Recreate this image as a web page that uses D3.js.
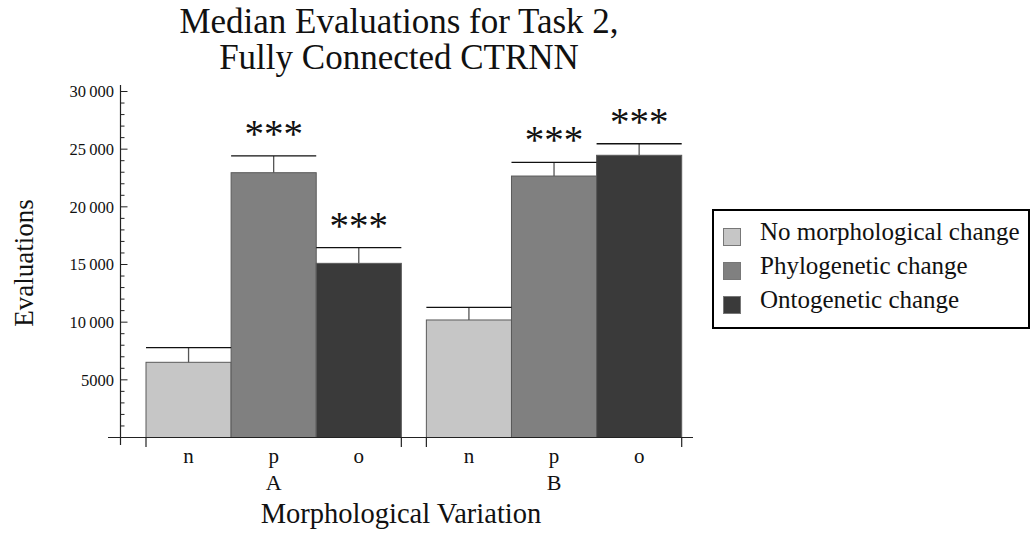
<!DOCTYPE html>
<html>
<head>
<meta charset="utf-8">
<script src="https://cdn.jsdelivr.net/npm/d3@7"></script>
<style>
  html, body { margin: 0; padding: 0; background: #fff; }
  svg { display: block; font-family: "Liberation Serif", "Times New Roman", serif; }
</style>
</head>
<body>
<svg id="chart" width="1032" height="533"></svg>
<script>
// Groups on the x axis and the conditions within each group
const groups = ["A", "B"];
const conditions = ["n", "p", "o"];
const seriesNames = ["No morphological change", "Phylogenetic change", "Ontogenetic change"];
const seriesColors = ["#c6c6c6", "#808080", "#3a3a3a"];

// Median evaluations per group, in condition order n, p, o
const medianA = [6520, 22960, 15100];
const medianB = [10190, 22670, 24470];
// Upper end of each error bar
const upperA = [7790, 24410, 16460];
const upperB = [11290, 23860, 25470];
// Significance markers
const sigA = ["", "***", "***"];
const sigB = ["", "***", "***"];

const yTicks = [5000, 10000, 15000, 20000, 25000, 30000];

const rows = [];
groups.forEach((g, gi) => {
  const med = gi === 0 ? medianA : medianB;
  const up = gi === 0 ? upperA : upperB;
  const sig = gi === 0 ? sigA : sigB;
  conditions.forEach((c, ci) => {
    rows.push({ group: g, cond: c, idx: ci, value: med[ci], upper: up[ci], sig: sig[ci] });
  });
});

const svg = d3.select("#chart");

const x0 = d3.scaleBand().domain(groups).range([146, 681.7]).paddingInner(25 / 280).paddingOuter(0);
const x1 = d3.scaleBand().domain(conditions).range([0, x0.bandwidth()]).padding(0);
const y = d3.scaleLinear().domain([0, 30000]).range([437.5, 91.5]);

const fmt = v => v >= 10000 ? d3.format(",")(v).replace(",", "\u2009") : String(v);

// Bars
const bars = svg.append("g");
bars.selectAll("rect").data(rows).join("rect")
  .attr("x", d => x0(d.group) + x1(d.cond))
  .attr("y", d => y(d.value))
  .attr("width", x1.bandwidth())
  .attr("height", d => y(0) - y(d.value))
  .attr("fill", d => seriesColors[d.idx])
  .attr("stroke", "#5a5a5a")
  .attr("stroke-width", 1);

// Error bars: cap across the whole bar, stem from the bar top
const err = svg.append("g").attr("fill", "none");
err.selectAll("line.stem").data(rows).join("line").attr("class", "stem")
  .attr("x1", d => x0(d.group) + x1(d.cond) + x1.bandwidth() / 2)
  .attr("x2", d => x0(d.group) + x1(d.cond) + x1.bandwidth() / 2)
  .attr("y1", d => y(d.value))
  .attr("y2", d => y(d.upper))
  .attr("stroke", "#555").attr("stroke-width", 1.3);
err.selectAll("line.cap").data(rows).join("line").attr("class", "cap")
  .attr("x1", d => x0(d.group) + x1(d.cond))
  .attr("x2", d => x0(d.group) + x1(d.cond) + x1.bandwidth())
  .attr("y1", d => y(d.upper))
  .attr("y2", d => y(d.upper))
  .attr("stroke", "#111").attr("stroke-width", 1.3);

// Significance stars
svg.append("g").selectAll("text").data(rows.filter(d => d.sig)).join("text")
  .attr("x", d => x0(d.group) + x1(d.cond) + x1.bandwidth() / 2)
  .attr("y", d => y(d.upper) - 9)
  .attr("text-anchor", "middle")
  .attr("font-size", 39)
  .attr("fill", "#111")
  .text(d => d.sig);

// Y axis with major and minor ticks pointing right
const yAxisG = svg.append("g").attr("stroke", "#222");
yAxisG.append("line").attr("x1", 120.5).attr("x2", 120.5).attr("y1", 85).attr("y2", 445).attr("stroke-width", 1.2);
const minor = d3.range(1000, 30001, 1000).filter(v => v % 5000 !== 0);
yAxisG.selectAll("line.minor").data(minor).join("line").attr("class", "minor")
  .attr("x1", 120.5).attr("x2", 124.5)
  .attr("y1", d => y(d)).attr("y2", d => y(d)).attr("stroke-width", 1);
yAxisG.selectAll("line.major").data(yTicks).join("line").attr("class", "major")
  .attr("x1", 120.5).attr("x2", 127.5)
  .attr("y1", d => y(d)).attr("y2", d => y(d)).attr("stroke-width", 1);
svg.append("g").selectAll("text").data(yTicks).join("text")
  .attr("x", 114)
  .attr("y", d => y(d))
  .attr("dy", "0.35em")
  .attr("text-anchor", "end")
  .attr("font-size", 16.5)
  .attr("fill", "#111")
  .text(fmt);

// X axis
const xAxisG = svg.append("g").attr("stroke", "#222");
xAxisG.append("line").attr("x1", 108).attr("x2", 693).attr("y1", 437.5).attr("y2", 437.5).attr("stroke-width", 1.2);
const edges = [];
groups.forEach(g => { edges.push(x0(g)); edges.push(x0(g) + x0.bandwidth()); });
xAxisG.selectAll("line.edge").data(edges).join("line").attr("class", "edge")
  .attr("x1", d => d).attr("x2", d => d)
  .attr("y1", 437.5).attr("y2", 447).attr("stroke-width", 1.2);

svg.append("g").selectAll("text").data(rows).join("text")
  .attr("x", d => x0(d.group) + x1(d.cond) + x1.bandwidth() / 2)
  .attr("y", 463)
  .attr("text-anchor", "middle")
  .attr("font-size", 21)
  .attr("fill", "#111")
  .text(d => d.cond);

svg.append("g").selectAll("text").data(groups).join("text")
  .attr("x", g => x0(g) + x0.bandwidth() / 2)
  .attr("y", 490)
  .attr("text-anchor", "middle")
  .attr("font-size", 22)
  .attr("fill", "#111")
  .text(g => g);

svg.append("text")
  .attr("x", 401).attr("y", 523)
  .attr("text-anchor", "middle")
  .attr("font-size", 28.5)
  .attr("fill", "#111")
  .text("Morphological Variation");

svg.append("text")
  .attr("transform", "translate(33,263) rotate(-90)")
  .attr("text-anchor", "middle")
  .attr("font-size", 27)
  .attr("fill", "#111")
  .text("Evaluations");

// Title
const title = svg.append("text").attr("text-anchor", "middle").attr("font-size", 35).attr("fill", "#111");
title.append("tspan").attr("x", 399).attr("y", 33).text("Median Evaluations for Task 2,");
title.append("tspan").attr("x", 399).attr("y", 69).text("Fully Connected CTRNN");

// Legend
const legend = svg.append("g");
legend.append("rect").attr("x", 713).attr("y", 210).attr("width", 316).attr("height", 118)
  .attr("fill", "#fff").attr("stroke", "#000").attr("stroke-width", 2);
const li = legend.selectAll("g.item").data(seriesNames).join("g").attr("class", "item")
  .attr("transform", (d, i) => `translate(0, ${i * 34})`);
li.append("rect").attr("x", 723.5).attr("y", 228.5).attr("width", 17).attr("height", 17)
  .attr("fill", (d, i) => seriesColors[i]).attr("stroke", "#777").attr("stroke-width", 1);
li.append("text").attr("x", 760).attr("y", 240)
  .attr("font-size", 25).attr("fill", "#111").text(d => d);
</script>
</body>
</html>
